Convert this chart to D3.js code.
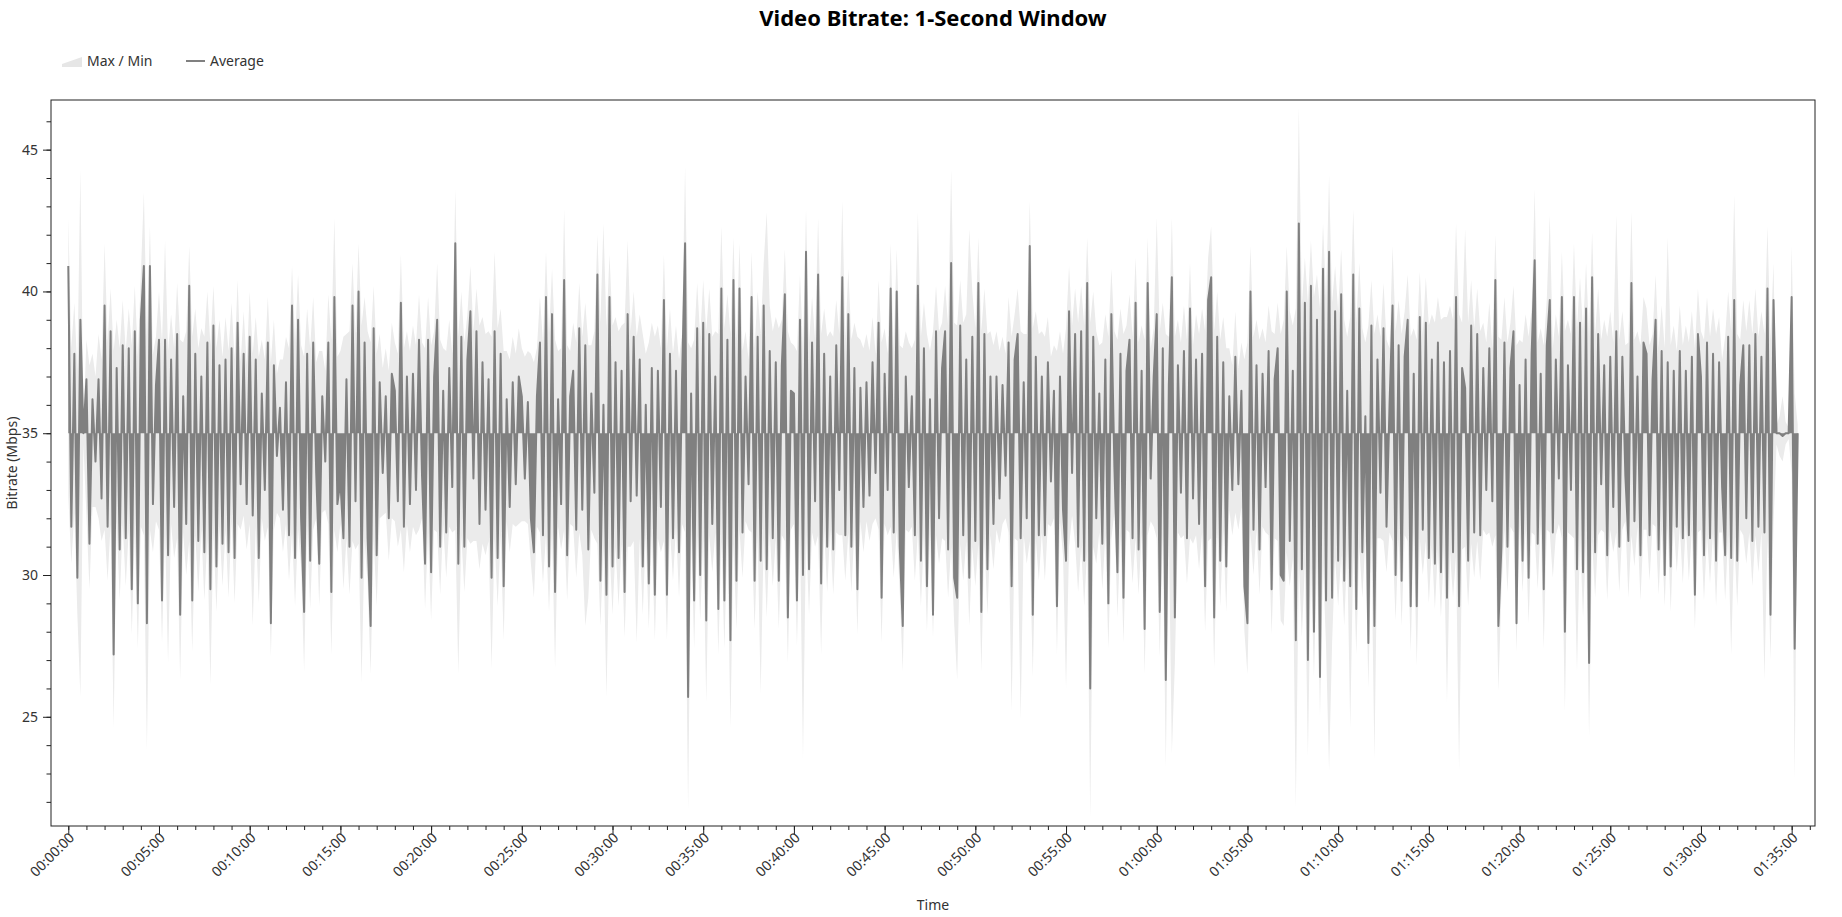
<!DOCTYPE html>
<html>
<head>
<meta charset="utf-8">
<title>Video Bitrate: 1-Second Window</title>
<script src="https://cdn.jsdelivr.net/npm/d3@7"></script>
<style>
  body { margin: 0; background: #fff; font-family: "Segoe UI", "Noto Sans", "Open Sans", sans-serif; }
  .axis text { fill: #333; font-size: 14px; font-family: "Segoe UI", "Noto Sans", sans-serif; }
  .axis line { stroke: #222; }
  .axis path.domain { display: none; }
</style>
</head>
<body>
<div id="chart"></div>
<script>
// readings every 10 seconds off the reference picture (one row = one minute)
var stepSeconds = 10;
// the encoder target the trace oscillates around
var targetMbps = 35;

var avgMbps = [
  40.9, 31.7, 37.8, 29.9, 39.0, 35.0,
  36.9, 31.1, 36.2, 34.0, 36.9, 32.7,
  39.5, 31.7, 38.6, 27.2, 37.3, 30.9,
  38.1, 31.3, 38.0, 29.5, 38.6, 29.0,
  39.0, 40.9, 28.3, 40.9, 32.5, 36.7,
  38.3, 29.1, 38.3, 30.7, 37.6, 32.4,
  38.5, 28.6, 36.3, 31.8, 40.2, 29.1,
  37.8, 31.2, 37.0, 30.8, 38.2, 29.5,
  38.8, 30.3, 37.4, 31.1, 37.6, 30.8,
  38.0, 30.6, 38.9, 33.2, 37.8, 32.5,
  38.4, 32.1, 37.6, 30.6, 36.4, 33.0,
  38.2, 28.3, 37.4, 34.2, 35.9, 32.3,
  36.8, 31.4, 39.5, 30.6, 39.0, 32.0,
  28.7, 37.8, 30.5, 38.2, 33.6, 30.4,
  36.3, 34.0, 38.2, 29.4, 39.8, 32.5,
  33.3, 31.3, 36.9, 31.0, 39.5, 32.6,
  40.0, 29.9, 38.2, 31.3, 28.2, 38.7,
  30.7, 36.8, 33.6, 36.3, 32.0, 37.1,
  36.5, 32.6, 39.6, 31.7, 37.0, 32.5,
  37.1, 33.0, 38.3, 33.5, 30.4, 38.3,
  30.1, 37.0, 39.0, 31.0, 36.5, 31.5,
  37.3, 33.1, 41.7, 30.4, 38.4, 31.0,
  37.6, 39.3, 33.4, 38.6, 31.8, 37.5,
  32.3, 36.9, 29.9, 38.6, 30.6, 37.8,
  29.6, 36.2, 32.4, 36.8, 33.2, 37.0,
  36.3, 33.4, 36.1, 32.0, 30.8, 36.3,
  38.2, 31.4, 39.8, 30.3, 39.2, 29.4,
  36.2, 32.5, 40.4, 30.7, 36.3, 37.2,
  31.6, 38.7, 32.3, 38.1, 30.9, 36.4,
  32.9, 40.6, 29.8, 36.0, 29.3, 39.8,
  30.3, 37.5, 30.6, 37.2, 29.4, 39.2,
  32.6, 38.4, 32.8, 37.6, 30.3, 36.0,
  29.7, 37.3, 29.3, 37.2, 32.4, 39.7,
  29.3, 37.8, 31.3, 37.2, 30.8, 36.9,
  41.7, 25.7, 36.4, 29.1, 38.7, 30.0,
  38.9, 28.4, 38.5, 31.8, 37.0, 28.8,
  40.1, 29.1, 38.3, 27.7, 40.4, 29.8,
  40.1, 31.5, 37.0, 33.2, 39.8, 29.8,
  38.4, 30.5, 39.5, 30.2, 37.9, 31.3,
  37.5, 29.8, 37.4, 39.9, 28.5, 36.5,
  36.4, 29.1, 39.0, 30.0, 41.4, 30.2,
  38.2, 32.6, 40.6, 29.7, 37.8, 31.0,
  37.0, 30.9, 38.1, 33.0, 40.5, 31.4,
  39.2, 31.0, 37.3, 29.5, 36.6, 32.4,
  36.8, 32.8, 37.5, 33.6, 38.9, 29.2,
  37.1, 33.0, 40.1, 31.5, 40.0, 31.0,
  28.2, 37.0, 33.1, 36.3, 31.4, 40.2,
  30.5, 38.0, 29.6, 36.2, 28.6, 38.6,
  32.0, 37.3, 38.6, 30.9, 41.0, 29.9,
  29.2, 38.8, 31.4, 37.6, 29.9, 38.4,
  31.2, 40.3, 28.7, 38.5, 30.2, 37.0,
  31.8, 37.0, 32.7, 36.7, 33.5, 38.2,
  29.6, 37.6, 38.5, 31.3, 36.8, 32.0,
  41.6, 28.6, 37.7, 31.4, 37.0, 31.4,
  37.5, 33.3, 36.5, 28.9, 37.0, 32.3,
  30.5, 39.3, 33.6, 38.5, 31.0, 38.6,
  30.5, 40.3, 26.0, 38.4, 32.0, 36.4,
  31.1, 37.6, 29.0, 39.2, 33.8, 30.1,
  37.8, 29.2, 37.2, 38.3, 31.3, 39.6,
  30.9, 37.2, 28.1, 40.3, 33.4, 37.0,
  39.2, 28.7, 38.0, 26.3, 36.7, 40.5,
  28.5, 37.4, 32.9, 37.9, 31.3, 39.4,
  32.7, 37.6, 31.8, 37.8, 29.6, 39.7,
  40.5, 28.5, 38.4, 30.5, 37.5, 30.3,
  36.3, 33.0, 37.7, 33.2, 36.5, 29.6,
  28.3, 40.0, 31.6, 37.4, 30.9, 37.1,
  33.1, 37.9, 29.5, 36.9, 38.0, 30.0,
  29.8, 40.0, 31.2, 37.2, 27.7, 42.4,
  30.2, 39.6, 27.0, 40.2, 28.0, 39.0,
  26.4, 40.8, 29.1, 41.4, 29.2, 39.3,
  30.5, 39.9, 29.8, 36.5, 29.6, 40.6,
  28.8, 39.4, 30.8, 35.6, 27.6, 38.8,
  28.2, 37.6, 32.9, 38.7, 31.7, 36.0,
  39.5, 30.0, 38.1, 29.8, 37.7, 39.0,
  28.9, 37.1, 28.9, 39.1, 31.6, 38.9,
  30.6, 37.6, 30.4, 38.2, 30.1, 37.5,
  29.2, 37.9, 30.8, 39.8, 28.9, 37.3,
  36.6, 30.5, 38.8, 31.5, 38.5, 31.4,
  37.3, 33.0, 38.0, 32.6, 40.4, 28.2,
  31.0, 38.2, 31.0, 37.3, 38.6, 28.3,
  36.7, 30.5, 37.6, 29.9, 37.8, 41.1,
  31.1, 37.1, 29.5, 38.1, 39.7, 31.5,
  37.6, 33.4, 39.8, 28.0, 37.4, 33.0,
  39.8, 30.2, 38.9, 30.1, 39.4, 26.9,
  40.5, 30.8, 38.5, 33.2, 37.4, 30.7,
  37.7, 32.4, 38.6, 31.0, 37.7, 33.5,
  31.2, 40.3, 31.9, 37.0, 30.7, 38.2,
  37.8, 31.4, 36.9, 39.0, 30.9, 37.9,
  30.0, 37.5, 30.3, 37.2, 31.7, 37.9,
  31.3, 37.2, 31.4, 37.7, 29.3, 38.5,
  37.0, 30.7, 38.2, 31.3, 37.8, 30.5,
  37.5, 33.1, 30.7, 38.4, 30.6, 39.7,
  30.5, 36.7, 38.1, 32.0, 38.1, 31.2,
  38.5, 31.7, 37.7, 31.5, 40.1, 28.6,
  39.7, 35.0, 35.0, 34.9, 35.0, 35.0,
  39.8, 27.4, 35.0
];

var maxMbps = [
  42.6, 38.0, 39.6, 37.2, 44.3, 35.4,
  38.3, 37.4, 37.8, 37.0, 38.5, 37.6,
  41.7, 38.2, 40.1, 37.9, 39.0, 38.0,
  39.7, 37.9, 39.4, 38.1, 40.2, 37.7,
  40.6, 43.5, 38.4, 42.3, 37.8, 38.4,
  40.0, 38.2, 41.8, 37.9, 39.2, 38.0,
  40.3, 38.3, 38.2, 38.6, 41.6, 38.4,
  39.4, 38.0, 38.7, 38.4, 40.0, 38.1,
  40.2, 38.0, 39.0, 37.7, 39.1, 37.9,
  39.6, 37.6, 40.4, 37.5, 39.3, 37.4,
  40.0, 37.8, 39.1, 37.7, 38.3, 37.6,
  39.8, 37.5, 39.0, 37.1, 37.6, 37.6,
  38.4, 38.0, 40.9, 38.2, 40.6, 38.1,
  37.7, 39.4, 38.0, 39.8, 37.5, 37.9,
  37.9, 37.2, 39.9, 38.3, 42.6, 37.7,
  37.9, 38.4, 38.5, 38.6, 41.0, 38.5,
  41.7, 38.8, 39.8, 38.6, 38.2, 40.2,
  37.8, 38.5, 37.3, 38.0, 37.2, 38.9,
  38.2, 37.8, 41.3, 38.0, 38.6, 37.9,
  38.8, 38.1, 39.9, 38.2, 38.0, 39.8,
  38.1, 38.6, 41.0, 38.3, 38.0, 37.9,
  39.0, 37.8, 43.6, 38.4, 40.0, 38.2,
  39.2, 40.9, 38.6, 40.1, 38.8, 39.1,
  38.5, 38.6, 38.4, 41.4, 38.7, 39.4,
  37.9, 37.9, 37.6, 38.4, 37.8, 38.7,
  38.0, 37.7, 37.9, 37.8, 37.5, 38.0,
  39.8, 38.2, 41.4, 38.5, 40.8, 38.3,
  37.9, 38.0, 42.9, 38.1, 37.9, 38.9,
  38.2, 40.3, 38.4, 39.6, 38.1, 38.1,
  38.6, 42.0, 38.9, 42.4, 38.7, 41.3,
  38.8, 39.1, 38.6, 38.8, 38.9, 41.8,
  38.6, 40.0, 38.4, 39.2, 38.5, 37.8,
  38.2, 38.9, 38.4, 38.8, 38.0, 41.3,
  38.0, 39.4, 37.8, 38.8, 37.6, 38.5,
  44.4, 38.2, 38.0, 38.3, 40.3, 38.4,
  40.4, 38.6, 40.1, 38.4, 38.6, 38.5,
  42.3, 38.7, 39.9, 38.5, 41.9, 38.3,
  41.7, 37.9, 38.6, 37.6, 41.4, 38.0,
  40.0, 38.5, 41.0, 42.8, 39.5, 38.6,
  39.1, 38.7, 39.0, 41.5, 38.6, 38.2,
  38.1, 37.9, 40.6, 38.0, 42.9, 38.2,
  39.8, 38.3, 42.6, 38.5, 39.4, 38.4,
  38.6, 38.4, 39.7, 38.5, 43.2, 38.3,
  40.8, 38.3, 38.9, 38.4, 38.3, 38.0,
  38.5, 37.9, 39.1, 37.8, 40.4, 38.2,
  38.7, 37.8, 41.7, 38.0, 41.5, 38.1,
  38.0, 38.6, 38.2, 38.0, 38.3, 42.8,
  38.4, 39.6, 38.5, 37.9, 38.6, 40.2,
  38.6, 38.9, 40.2, 38.8, 44.3, 38.9,
  38.8, 40.4, 38.9, 39.2, 42.2, 40.0,
  38.7, 41.9, 38.6, 40.1, 38.5, 38.6,
  38.1, 38.6, 37.9, 38.4, 37.8, 39.8,
  38.4, 39.2, 40.1, 38.6, 38.5, 38.5,
  43.2, 38.7, 39.3, 38.5, 38.6, 38.4,
  39.1, 37.7, 38.1, 37.9, 38.6, 37.8,
  38.7, 40.9, 38.8, 40.1, 38.9, 40.2,
  38.8, 41.9, 38.9, 40.0, 38.6, 38.1,
  38.2, 39.2, 38.4, 40.8, 38.6, 38.3,
  39.4, 38.5, 38.8, 39.9, 38.4, 41.2,
  38.2, 38.8, 38.3, 41.9, 38.0, 38.7,
  42.6, 38.6, 39.6, 38.5, 38.4, 42.6,
  38.4, 39.0, 38.2, 39.5, 38.3, 41.0,
  38.1, 39.2, 38.5, 39.4, 38.6, 41.2,
  42.3, 38.6, 40.0, 38.3, 39.1, 38.0,
  38.0, 37.4, 39.3, 37.3, 38.2, 37.6,
  38.2, 41.6, 38.4, 39.0, 38.3, 38.7,
  38.2, 39.5, 38.6, 38.5, 39.6, 38.5,
  39.0, 41.6, 39.3, 38.8, 39.4, 46.5,
  39.5, 41.2, 39.6, 41.8, 39.8, 40.6,
  39.4, 42.4, 39.7, 44.1, 39.6, 40.9,
  39.3, 41.5, 39.0, 38.4, 39.1, 42.9,
  38.9, 41.0, 38.7, 38.2, 38.8, 40.4,
  38.5, 39.2, 38.4, 40.3, 38.3, 38.0,
  41.6, 38.6, 39.7, 38.5, 39.3, 40.6,
  38.4, 38.7, 38.3, 40.7, 38.5, 40.5,
  38.8, 39.2, 38.9, 39.8, 39.0, 39.1,
  39.1, 39.5, 39.0, 42.4, 39.2, 38.9,
  42.2, 38.9, 40.4, 38.7, 40.1, 38.6,
  38.9, 38.2, 39.6, 38.0, 42.0, 38.4,
  38.3, 39.8, 38.2, 38.9, 40.2, 38.1,
  38.3, 38.2, 39.2, 38.4, 39.4, 43.6,
  38.2, 38.7, 38.1, 39.7, 42.7, 38.0,
  39.2, 38.4, 41.4, 38.6, 39.0, 38.5,
  41.7, 38.7, 40.5, 38.6, 41.0, 38.4,
  42.1, 38.5, 40.1, 38.3, 39.0, 38.4,
  39.3, 38.2, 42.7, 38.3, 39.3, 38.1,
  38.2, 42.8, 38.3, 38.6, 38.1, 39.8,
  39.4, 38.1, 38.5, 40.6, 38.0, 39.5,
  38.0, 41.9, 38.1, 38.8, 37.9, 39.5,
  38.1, 38.8, 38.2, 39.3, 38.0, 40.1,
  38.6, 38.3, 39.8, 38.4, 39.4, 38.5,
  39.1, 37.6, 38.4, 40.0, 38.6, 43.4,
  38.5, 38.3, 39.7, 38.6, 39.7, 38.5,
  40.1, 38.4, 39.3, 38.5, 42.3, 38.3,
  41.0, 35.3, 35.6, 36.3, 35.4, 35.2,
  41.6, 36.4, 35.3
];

var minMbps = [
  32.8, 30.4, 32.2, 28.6, 25.7, 34.6,
  32.1, 29.5, 32.4, 32.4, 32.0, 31.2,
  31.6, 29.8, 31.8, 24.6, 31.9, 29.1,
  31.8, 29.6, 31.6, 27.9, 31.5, 27.4,
  31.7, 31.4, 23.8, 31.6, 30.8, 31.9,
  31.6, 27.6, 31.5, 26.9, 31.8, 30.6,
  31.3, 26.3, 31.5, 30.0, 31.2, 27.3,
  31.4, 29.4, 31.6, 29.1, 31.3, 26.1,
  31.5, 28.7, 31.7, 29.6, 31.6, 29.2,
  31.9, 29.0, 31.8, 31.6, 32.1, 30.9,
  31.8, 28.2, 31.7, 29.0, 32.0, 31.2,
  31.7, 27.1, 31.6, 32.2, 32.0, 30.8,
  31.8, 29.8, 31.5, 28.9, 31.6, 30.3,
  26.6, 31.7, 28.8, 31.6, 32.0, 28.9,
  32.2, 32.3, 31.8, 27.2, 31.6, 30.8,
  31.8, 29.5, 31.3, 29.3, 31.2, 30.9,
  31.1, 26.2, 31.2, 29.7, 26.5, 31.3,
  28.9, 32.0, 32.1, 32.2, 30.5, 32.0,
  31.9, 31.0, 31.6, 30.1, 31.8, 30.8,
  31.7, 31.4, 31.6, 32.0, 28.8, 31.5,
  28.4, 31.6, 31.5, 29.3, 31.8, 29.9,
  31.7, 31.5, 31.6, 26.5, 31.4, 29.4,
  31.3, 31.1, 31.2, 31.2, 30.2, 31.1,
  30.7, 31.2, 26.7, 31.3, 28.9, 31.4,
  27.7, 31.9, 30.8, 31.8, 31.7, 31.8,
  31.9, 31.9, 31.8, 30.4, 29.2, 31.7,
  31.5, 29.7, 31.4, 28.7, 31.5, 26.7,
  31.7, 30.9, 31.6, 29.1, 31.8, 31.7,
  29.9, 31.5, 30.7, 28.2, 29.2, 31.6,
  31.3, 31.1, 28.2, 31.0, 25.7, 31.0,
  28.6, 31.0, 28.9, 31.1, 27.8, 31.0,
  31.0, 31.2, 27.6, 31.3, 28.6, 31.4,
  28.1, 31.4, 27.7, 31.3, 30.8, 31.2,
  27.7, 31.6, 29.8, 31.7, 29.2, 31.8,
  31.5, 21.7, 31.6, 27.4, 31.4, 28.4,
  31.3, 25.5, 31.4, 30.1, 31.5, 27.2,
  31.2, 27.4, 31.3, 24.6, 31.1, 28.1,
  31.6, 29.9, 31.9, 31.6, 31.5, 28.1,
  31.4, 25.8, 31.3, 28.5, 31.5, 29.6,
  31.3, 28.1, 31.4, 31.2, 26.9, 31.6,
  31.8, 27.5, 31.6, 23.5, 31.5, 28.6,
  31.5, 31.0, 31.4, 27.2, 31.6, 29.4,
  31.6, 29.3, 31.5, 31.4, 31.4, 29.8,
  31.5, 29.4, 31.6, 27.9, 31.9, 30.8,
  31.9, 31.2, 31.8, 32.0, 31.6, 27.6,
  31.8, 31.4, 31.7, 29.9, 31.6, 29.4,
  26.6, 31.6, 31.5, 31.7, 29.8, 31.5,
  28.9, 31.4, 28.0, 31.5, 27.8, 31.4,
  30.4, 31.3, 31.2, 29.2, 31.0, 28.3,
  26.3, 31.1, 29.8, 31.2, 28.2, 31.0,
  29.6, 31.1, 26.6, 31.2, 28.6, 31.4,
  30.2, 31.6, 31.1, 31.8, 32.0, 31.5,
  25.2, 31.3, 31.2, 24.9, 31.4, 30.4,
  31.2, 26.4, 31.3, 29.8, 31.5, 29.8,
  31.8, 31.7, 32.0, 27.2, 31.9, 30.7,
  26.0, 31.0, 32.1, 31.1, 29.4, 31.0,
  28.9, 30.9, 21.4, 31.0, 30.4, 31.5,
  29.5, 31.4, 27.4, 31.3, 32.2, 28.5,
  31.4, 27.6, 31.6, 31.5, 29.7, 31.3,
  29.3, 31.5, 26.5, 31.4, 31.9, 31.7,
  31.3, 27.1, 31.4, 23.2, 31.6, 23.7,
  26.9, 31.5, 31.3, 31.4, 29.7, 31.3,
  31.1, 31.4, 30.2, 31.5, 28.0, 31.2,
  31.3, 26.7, 31.5, 28.9, 31.6, 28.7,
  32.3, 31.4, 32.2, 31.6, 32.4, 28.0,
  26.5, 31.5, 30.0, 31.6, 29.3, 31.7,
  31.5, 31.4, 27.9, 31.3, 31.2, 28.4,
  28.2, 30.8, 29.6, 30.6, 21.8, 30.5,
  27.8, 30.4, 23.6, 30.3, 26.4, 30.5,
  25.0, 30.4, 27.5, 23.1, 27.6, 30.6,
  28.9, 30.7, 28.2, 30.9, 24.6, 30.8,
  27.2, 31.0, 29.2, 31.2, 26.0, 31.1,
  23.5, 31.3, 31.3, 31.2, 30.1, 31.5,
  31.2, 28.4, 31.3, 28.2, 31.4, 31.2,
  27.3, 31.5, 26.8, 31.3, 30.0, 31.2,
  29.0, 31.0, 28.8, 30.9, 28.5, 31.0,
  25.5, 30.8, 29.2, 30.7, 23.1, 30.9,
  31.0, 28.9, 31.1, 29.9, 31.2, 29.8,
  31.6, 31.4, 31.5, 31.0, 31.4, 25.9,
  29.4, 31.6, 29.4, 31.7, 31.5, 27.3,
  31.7, 29.4, 31.6, 28.3, 31.5, 31.4,
  29.5, 31.8, 27.4, 31.6, 31.5, 29.9,
  31.4, 31.8, 31.3, 25.2, 31.5, 31.4,
  31.3, 26.6, 31.4, 28.5, 31.2, 24.3,
  31.2, 29.2, 31.4, 31.6, 31.5, 29.1,
  31.6, 30.8, 31.5, 29.4, 31.6, 31.9,
  29.2, 31.4, 30.3, 31.7, 29.1, 31.6,
  31.6, 29.8, 31.8, 31.7, 29.3, 31.6,
  28.9, 31.7, 28.7, 31.8, 30.1, 31.7,
  29.7, 31.8, 29.8, 31.6, 28.1, 31.5,
  31.6, 29.1, 31.4, 29.7, 31.5, 28.9,
  31.5, 31.5, 29.1, 31.4, 27.2, 31.3,
  28.9, 31.6, 31.4, 30.4, 31.5, 29.6,
  31.4, 30.1, 31.5, 26.3, 31.3, 27.0,
  31.8, 34.6, 34.2, 34.0, 34.6, 34.8,
  33.6, 22.8, 34.7
];

var yMajorTicks = [25, 30, 35, 40, 45];
var xMajorTicks = [0, 300, 600, 900, 1200, 1500, 1800, 2100, 2400, 2700,
  3000, 3300, 3600, 3900, 4200, 4500, 4800, 5100, 5400, 5700];
var xTickLabels = ["00:00:00", "00:05:00", "00:10:00", "00:15:00", "00:20:00",
  "00:25:00", "00:30:00", "00:35:00", "00:40:00", "00:45:00", "00:50:00",
  "00:55:00", "01:00:00", "01:05:00", "01:10:00", "01:15:00", "01:20:00",
  "01:25:00", "01:30:00", "01:35:00"];

var n = Math.min(avgMbps.length, maxMbps.length, minMbps.length);
var series = [];
for (var i = 0; i < n; i++) {
  series.push({ t: i * stepSeconds, avg: avgMbps[i], max: maxMbps[i], min: minMbps[i] });
}

var width = 1842;
var height = 917;
var margin = { top: 100, right: 27, bottom: 91, left: 51 };
var plotW = width - margin.left - margin.right;
var plotH = height - margin.top - margin.bottom;

var svg = d3.select("#chart")
  .append("svg")
  .attr("width", width)
  .attr("height", height);

var chartGroup = svg.append("g")
  .attr("transform", "translate(" + margin.left + "," + margin.top + ")");

// small padding round the data extent, like the original
var tExtent = d3.extent(series, function(d) { return d.t; });
var tPad = (tExtent[1] - tExtent[0]) * 0.01;
var xScale = d3.scaleLinear()
  .domain([tExtent[0] - tPad, tExtent[1] + tPad])
  .range([0, plotW]);

var yLo = d3.min(series, function(d) { return d.min; });
var yHi = d3.max(series, function(d) { return d.max; });
var yPad = (yHi - yLo) * 0.01;
var yScale = d3.scaleLinear()
  .domain([yLo - yPad, yHi + yPad])
  .range([plotH, 0]);

svg.append("defs").append("clipPath").attr("id", "plotClip")
  .append("rect").attr("width", plotW).attr("height", plotH);

var plot = chartGroup.append("g").attr("clip-path", "url(#plotClip)");

//==== Max / Min band ====
var band = d3.area()
  .x(function(d) { return xScale(d.t); })
  .y0(function(d) { return yScale(d.min); })
  .y1(function(d) { return yScale(d.max); });

plot.append("path")
  .datum(series)
  .attr("d", band)
  .attr("fill", "#ebebeb")
  .attr("stroke", "none");

//==== Average ====
// the 1-second trace is so dense that it fills solid round the target;
// filling between the trace and the target gives that look
var fillToTarget = d3.area()
  .x(function(d) { return xScale(d.t); })
  .y0(yScale(targetMbps))
  .y1(function(d) { return yScale(d.avg); });

plot.append("path")
  .datum(series)
  .attr("d", fillToTarget)
  .attr("fill", "#808080")
  .attr("stroke", "none");

var line = d3.line()
  .x(function(d) { return xScale(d.t); })
  .y(function(d) { return yScale(d.avg); });

plot.append("path")
  .datum(series)
  .attr("d", line)
  .attr("fill", "none")
  .attr("stroke", "#808080")
  .attr("stroke-width", 2)
  .attr("stroke-linejoin", "round");

// frame
chartGroup.append("rect")
  .attr("width", plotW)
  .attr("height", plotH)
  .attr("fill", "none")
  .attr("stroke", "#222")
  .attr("stroke-width", 1);

//==== Axes ====
var xMinor = d3.range(0, tExtent[1] + tPad, 60);
chartGroup.append("g")
  .attr("class", "x axis minor")
  .attr("transform", "translate(0," + plotH + ")")
  .call(d3.axisBottom(xScale).tickValues(xMinor).tickSize(4).tickFormat(""));

var xAxisG = chartGroup.append("g")
  .attr("class", "x axis")
  .attr("transform", "translate(0," + plotH + ")")
  .call(d3.axisBottom(xScale).tickValues(xMajorTicks).tickSize(8)
    .tickFormat(function(d, i) { return xTickLabels[i]; }));

xAxisG.selectAll("text")
  .attr("x", 0)
  .attr("y", 0)
  .attr("dy", "0.35em")
  .attr("text-anchor", "end")
  .attr("transform", "translate(3,9) rotate(-45)");

var yMinor = d3.range(Math.ceil(yLo - yPad), yHi + yPad, 1);
chartGroup.append("g")
  .attr("class", "y axis minor")
  .call(d3.axisLeft(yScale).tickValues(yMinor).tickSize(4.5).tickFormat(""));

chartGroup.append("g")
  .attr("class", "y axis")
  .call(d3.axisLeft(yScale).tickValues(yMajorTicks).tickSize(8).tickPadding(5));

//==== Titles ====
svg.append("text")
  .attr("x", margin.left + plotW / 2)
  .attr("y", 26)
  .attr("text-anchor", "middle")
  .style("font-size", "22px")
  .style("font-weight", "bold")
  .style("fill", "#000")
  .text("Video Bitrate: 1-Second Window");

svg.append("text")
  .attr("transform", "translate(17," + (margin.top + plotH / 2) + ") rotate(-90)")
  .attr("text-anchor", "middle")
  .style("font-size", "14px")
  .style("fill", "#333")
  .text("Bitrate (Mbps)");

svg.append("text")
  .attr("x", margin.left + plotW / 2)
  .attr("y", 910)
  .attr("text-anchor", "middle")
  .style("font-size", "14px")
  .style("fill", "#333")
  .text("Time");

//==== Legend ====
var legend = svg.append("g").attr("transform", "translate(62,56)");
legend.append("path")
  .attr("d", "M0,11 L0,8 L20,1 L20,11 Z")
  .attr("fill", "#e6e6e6");
legend.append("text")
  .attr("x", 25)
  .attr("y", 10)
  .style("font-size", "14px")
  .style("fill", "#333")
  .text("Max / Min");
legend.append("line")
  .attr("x1", 124).attr("x2", 143)
  .attr("y1", 5).attr("y2", 5)
  .attr("stroke", "#808080")
  .attr("stroke-width", 2);
legend.append("text")
  .attr("x", 148)
  .attr("y", 10)
  .style("font-size", "14px")
  .style("fill", "#333")
  .text("Average");
</script>
</body>
</html>
